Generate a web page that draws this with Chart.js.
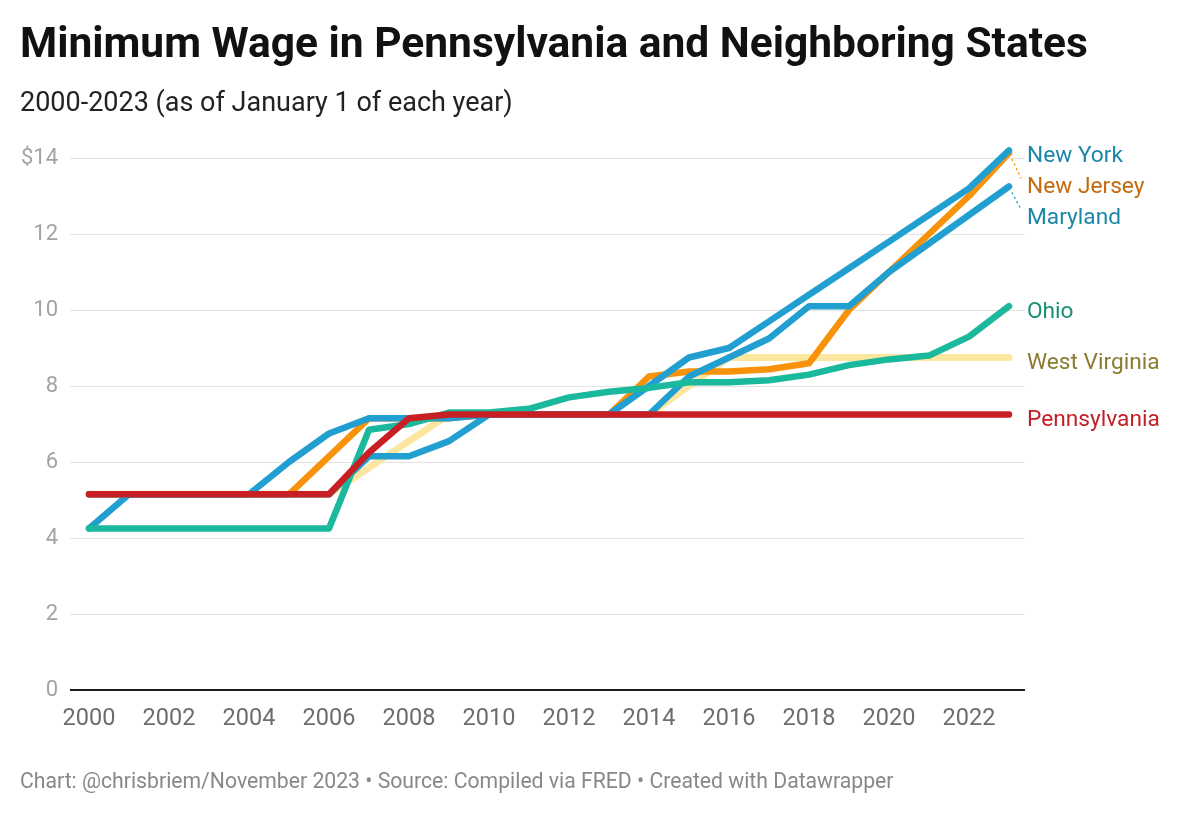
<!DOCTYPE html>
<html lang="en">
<head>
<meta charset="UTF-8">
<title>Minimum Wage in Pennsylvania and Neighboring States</title>
<script src="https://cdn.jsdelivr.net/npm/chart.js"></script>
<style>
    body {
        margin: 0;
        background: #fff;
        font-family: Roboto, sans-serif;
    }
    .page {
        position: relative;
        width: 1200px;
        height: 813px;
        overflow: hidden;
    }
    .title {
        position: absolute;
        left: 20px;
        top: 18px;
        font-size: 42.5px;
        font-weight: bold;
        color: #111;
        white-space: nowrap;
    }
    .subtitle {
        position: absolute;
        left: 20px;
        top: 86px;
        font-size: 27px;
        color: #222;
        white-space: nowrap;
    }
    .footer {
        position: absolute;
        left: 20px;
        top: 768px;
        font-size: 21.2px;
        color: #888;
        white-space: nowrap;
    }
    .chartbox {
        position: absolute;
        left: 0;
        top: 0;
        width: 1200px;
        height: 813px;
    }
</style>
</head>
<body>
<div class="page">
    <div class="chartbox"><canvas id="wage" width="1200" height="813"></canvas></div>
    <div class="title">Minimum Wage in Pennsylvania and Neighboring States</div>
    <div class="subtitle">2000-2023 (as of January 1 of each year)</div>
    <div class="footer">Chart: @chrisbriem/November 2023 • Source: Compiled via FRED • Created with Datawrapper</div>
</div>

<script>
// years 2000..2023
const years = [2000, 2001, 2002, 2003, 2004, 2005, 2006, 2007, 2008, 2009, 2010, 2011,
               2012, 2013, 2014, 2015, 2016, 2017, 2018, 2019, 2020, 2021, 2022, 2023];

const pennsylvania = [5.15, 5.15, 5.15, 5.15, 5.15, 5.15, 5.15, 6.25, 7.15, 7.25, 7.25, 7.25,
                      7.25, 7.25, 7.25, 7.25, 7.25, 7.25, 7.25, 7.25, 7.25, 7.25, 7.25, 7.25];
const ohio = [4.25, 4.25, 4.25, 4.25, 4.25, 4.25, 4.25, 6.85, 7.00, 7.30, 7.30, 7.40,
              7.70, 7.85, 7.95, 8.10, 8.10, 8.15, 8.30, 8.55, 8.70, 8.80, 9.30, 10.10];
const newYork = [4.25, 5.15, 5.15, 5.15, 5.15, 6.00, 6.75, 7.15, 7.15, 7.15, 7.25, 7.25,
                 7.25, 7.25, 8.00, 8.75, 9.00, 9.70, 10.40, 11.10, 11.80, 12.50, 13.20, 14.20];
const maryland = [5.15, 5.15, 5.15, 5.15, 5.15, 5.15, 5.15, 6.15, 6.15, 6.55, 7.25, 7.25,
                  7.25, 7.25, 7.25, 8.25, 8.75, 9.25, 10.10, 10.10, 11.00, 11.75, 12.50, 13.25];
const newJersey = [5.15, 5.15, 5.15, 5.15, 5.15, 5.15, 6.15, 7.15, 7.15, 7.15, 7.25, 7.25,
                   7.25, 7.25, 8.25, 8.38, 8.38, 8.44, 8.60, 10.00, 11.00, 12.00, 13.00, 14.13];
const westVirginia = [5.15, 5.15, 5.15, 5.15, 5.15, 5.15, 5.15, 5.85, 6.55, 7.25, 7.25, 7.25,
                      7.25, 7.25, 7.25, 8.00, 8.75, 8.75, 8.75, 8.75, 8.75, 8.75, 8.75, 8.75];

const yTicks = [0, 2, 4, 6, 8, 10, 12, 14];
const xTicks = [2000, 2002, 2004, 2006, 2008, 2010, 2012, 2014, 2016, 2018, 2020, 2022];

// drawn top first
const series = [
    {name: 'Pennsylvania', values: pennsylvania, line: '#c71f23', text: '#c11f24', width: 6.5},
    {name: 'Ohio', values: ohio, line: '#1ab89c', text: '#1a8f77', width: 6.5},
    {name: 'New York', values: newYork, line: '#219fd0', text: '#1b86a8', width: 6.5},
    {name: 'Maryland', values: maryland, line: '#219fd0', text: '#1b86a8', width: 6.5},
    {name: 'New Jersey', values: newJersey, line: '#f7920a', text: '#c46a0c', width: 6.5},
    {name: 'West Virginia', values: westVirginia, line: '#fde6a0', text: '#8b7a30', width: 7}
];

// end labels with simple collision push-down, dotted leaders when moved
const endLabels = {
    id: 'endLabels',
    afterDatasetsDraw(chart) {
        const ctx = chart.ctx;
        const xs = chart.scales.x, ys = chart.scales.y;
        const items = series.map(s => {
            const last = s.values[s.values.length - 1];
            const py = ys.getPixelForValue(last);
            return {s: s, px: xs.getPixelForValue(years[years.length - 1]), py: py, ly: py + 6};
        }).sort((a, b) => a.py - b.py);
        for (let i = 1; i < items.length; i++) {
            if (items[i].ly < items[i - 1].ly + 31) items[i].ly = items[i - 1].ly + 31;
        }
        ctx.save();
        ctx.font = '22.7px Roboto';
        ctx.textBaseline = 'middle';
        items.forEach(it => {
            if (it.ly - it.py > 14) {
                ctx.strokeStyle = it.s.line;
                ctx.lineWidth = 1.5;
                ctx.setLineDash([2, 3]);
                ctx.beginPath();
                ctx.moveTo(it.px + 3, it.py + 6);
                ctx.lineTo(it.px + 12, it.ly - 9);
                ctx.stroke();
                ctx.setLineDash([]);
            }
            ctx.fillStyle = it.s.text;
            ctx.fillText(it.s.name, it.px + 18, it.ly);
        });
        ctx.restore();
    }
};

new Chart(document.getElementById('wage'), {
    type: 'line',
    data: {
        datasets: series.map(s => ({
            label: s.name,
            data: years.map((y, i) => ({x: y, y: s.values[i]})),
            borderColor: s.line,
            borderWidth: s.width,
            borderCapStyle: 'round',
            borderJoinStyle: 'round',
            pointRadius: 0,
            tension: 0,
            clip: false
        }))
    },
    options: {
        responsive: false,
        animation: false,
        devicePixelRatio: 1,
        layout: {padding: {top: 158, right: 175, bottom: 0, left: 0}},
        plugins: {legend: {display: false}, tooltip: {enabled: false}},
        scales: {
            x: {
                type: 'linear',
                min: 1999.525,
                max: 2023.4,
                afterBuildTicks: ax => { ax.ticks = xTicks.map(v => ({value: v})); },
                afterFit: ax => { ax.height = 123; },
                grid: {display: false, drawTicks: false},
                border: {display: false},
                ticks: {
                    padding: 15,
                    color: '#6d6d6d',
                    font: {family: 'Roboto', size: 23.5},
                    callback: v => String(v),
                    maxRotation: 0
                }
            },
            y: {
                min: 0,
                max: 14,
                afterBuildTicks: ax => { ax.ticks = yTicks.map(v => ({value: v})); },
                afterFit: ax => { ax.width = 70; },
                grid: {
                    drawTicks: false,
                    color: c => c.tick.value === 0 ? '#1a1a1a' : '#e2e2e2',
                    lineWidth: c => c.tick.value === 0 ? 2 : 1
                },
                border: {display: false},
                ticks: {
                    padding: 12,
                    color: '#a3a3a3',
                    font: {family: 'Roboto', size: 22},
                    callback: v => v === 14 ? '$14' : String(v)
                }
            }
        }
    },
    plugins: [endLabels]
});
</script>
</body>
</html>
